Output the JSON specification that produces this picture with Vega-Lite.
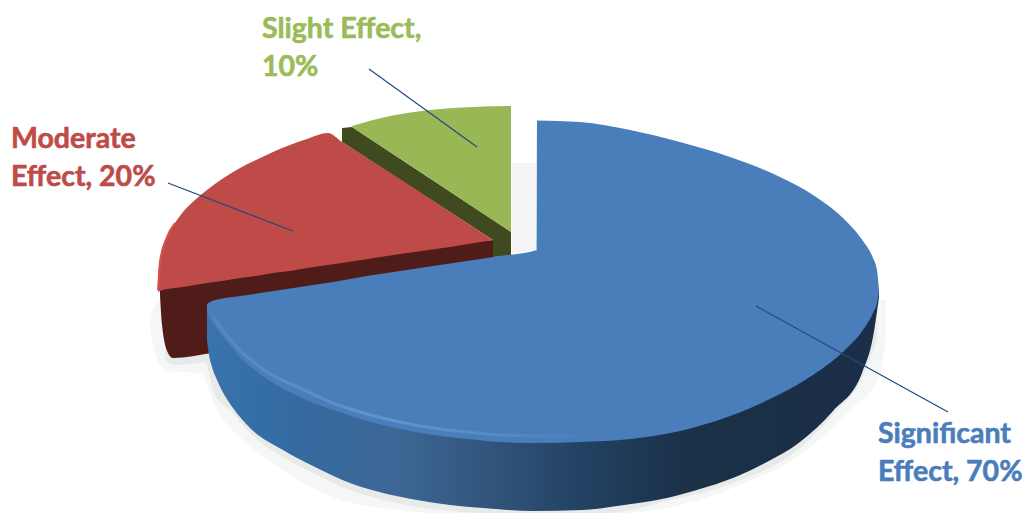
{
  "$schema": "https://vega.github.io/schema/vega-lite/v6.json",
  "width": 1032,
  "height": 513,
  "padding": 0,
  "autosize": {"type": "fit", "contains": "padding"},
  "background": "white",
  "config": {"view": {"stroke": null}},
  "datasets": {
    "shadowOuter": [
      {"x": -387, "top": -67, "bottom": -73}, {"x": -384, "top": -55, "bottom": -90}, {"x": -377, "top": -45, "bottom": -110},
      {"x": -362, "top": -45, "bottom": -117}, {"x": -337, "top": -45, "bottom": -118}, {"x": -320, "top": -45, "bottom": -155},
      {"x": -294, "top": -45, "bottom": -185}, {"x": -254, "top": -45, "bottom": -215}, {"x": -204, "top": -45, "bottom": -242},
      {"x": -137, "top": -45, "bottom": -255}, {"x": -104, "top": -45, "bottom": -258}, {"x": 83, "top": -45, "bottom": -258},
      {"x": 143, "top": -45, "bottom": -250}, {"x": 203, "top": -45, "bottom": -230}, {"x": 263, "top": -45, "bottom": -200},
      {"x": 313, "top": -45, "bottom": -155}, {"x": 343, "top": -45, "bottom": -120}, {"x": 349, "top": -45, "bottom": -80}
    ],
    "shadowInner": [
      {"x": -372, "top": -45, "bottom": -105}, {"x": -362, "top": -45, "bottom": -110}, {"x": -332, "top": -45, "bottom": -108},
      {"x": -322, "top": -45, "bottom": -140}, {"x": -304, "top": -45, "bottom": -158}, {"x": -287, "top": -45, "bottom": -178},
      {"x": -254, "top": -45, "bottom": -202}, {"x": -220, "top": -45, "bottom": -220}, {"x": -187, "top": -45, "bottom": -235},
      {"x": -154, "top": -45, "bottom": -245}, {"x": -120, "top": -45, "bottom": -252}, {"x": -87, "top": -45, "bottom": -256},
      {"x": -54, "top": -45, "bottom": -258}, {"x": 70, "top": -45, "bottom": -258}, {"x": 130, "top": -45, "bottom": -246},
      {"x": 196, "top": -45, "bottom": -228}, {"x": 263, "top": -45, "bottom": -193}, {"x": 296, "top": -45, "bottom": -160},
      {"x": 325, "top": -45, "bottom": -123}, {"x": 340, "top": -45, "bottom": -85}
    ],
    "gapShadow": [{"x": -25, "top": 92, "bottom": 2}, {"x": -1, "top": 92, "bottom": 5}],
    "greenWall": [
      {"x": -195, "top": 127, "bottom": 113}, {"x": -185, "top": 128, "bottom": 106.5}, {"x": -44, "top": 35, "bottom": 15},
      {"x": -43.99, "top": 35, "bottom": -2}, {"x": -26, "top": 23, "bottom": -1}
    ],
    "greenTop": [
      {"x": -185, "top": 129, "bottom": 128}, {"x": -164, "top": 135, "bottom": 114}, {"x": -130, "top": 142, "bottom": 92},
      {"x": -97, "top": 146, "bottom": 70}, {"x": -64, "top": 148, "bottom": 48}, {"x": -26, "top": 149, "bottom": 23}
    ],
    "redWall": [
      {"x": -377, "top": -30, "bottom": -40}, {"x": -375, "top": -30, "bottom": -70}, {"x": -369, "top": -30, "bottom": -98},
      {"x": -364, "top": -29, "bottom": -103}, {"x": -325, "top": -22, "bottom": -98}, {"x": -44, "top": 15, "bottom": -5}
    ],
    "redTop": [
      {"x": -379, "top": -17, "bottom": -37}, {"x": -377, "top": -7, "bottom": -36}, {"x": -370, "top": 18, "bottom": -34},
      {"x": -362, "top": 32, "bottom": -33}, {"x": -354, "top": 43, "bottom": -32}, {"x": -342, "top": 55, "bottom": -30},
      {"x": -330, "top": 65, "bottom": -28}, {"x": -315, "top": 76, "bottom": -26}, {"x": -297, "top": 87, "bottom": -23},
      {"x": -281, "top": 95, "bottom": -21}, {"x": -264, "top": 103, "bottom": -18}, {"x": -247, "top": 110, "bottom": -16},
      {"x": -230, "top": 116, "bottom": -13}, {"x": -209, "top": 122, "bottom": -10}, {"x": -195, "top": 113, "bottom": -8},
      {"x": -137, "top": 76, "bottom": 1}, {"x": -87, "top": 43, "bottom": 8}, {"x": -44, "top": 15, "bottom": 15}
    ],
    "redEdge": [
      {"x": -379, "y": -35}, {"x": -378, "y": -20}, {"x": -377, "y": -7}, {"x": -370, "y": 18}, {"x": -362, "y": 32}
    ],
    "blueWall": [
      {"x": -330, "top": -55, "bottom": -85}, {"x": -328, "top": -55, "bottom": -100}, {"x": -325, "top": -57, "bottom": -112},
      {"x": -320, "top": -65, "bottom": -125}, {"x": -312, "top": -75, "bottom": -141}, {"x": -304, "top": -85, "bottom": -153},
      {"x": -287, "top": -100, "bottom": -173}, {"x": -254, "top": -120, "bottom": -195}, {"x": -220, "top": -140, "bottom": -213},
      {"x": -187, "top": -150, "bottom": -228}, {"x": -154, "top": -160, "bottom": -238}, {"x": -120, "top": -165, "bottom": -245},
      {"x": -87, "top": -170, "bottom": -250}, {"x": -54, "top": -175, "bottom": -253}, {"x": -4, "top": -175, "bottom": -256},
      {"x": 46, "top": -175, "bottom": -255}, {"x": 80, "top": -175, "bottom": -251}, {"x": 130, "top": -165, "bottom": -243},
      {"x": 163, "top": -160, "bottom": -234}, {"x": 196, "top": -150, "bottom": -223}, {"x": 230, "top": -130, "bottom": -207},
      {"x": 263, "top": -105, "bottom": -187}, {"x": 296, "top": -80, "bottom": -156}, {"x": 325, "top": -55, "bottom": -118},
      {"x": 336, "top": -45, "bottom": -82}, {"x": 342, "top": -37, "bottom": -42}
    ],
    "blueTop": [
      {"x": -330, "top": -49, "bottom": -57}, {"x": -325, "top": -46, "bottom": -67}, {"x": -317, "top": -44, "bottom": -78},
      {"x": -297, "top": -41, "bottom": -102}, {"x": -270, "top": -37, "bottom": -124}, {"x": -237, "top": -32, "bottom": -142},
      {"x": -204, "top": -27, "bottom": -155}, {"x": -170, "top": -21, "bottom": -166}, {"x": -137, "top": -16, "bottom": -174},
      {"x": -104, "top": -11, "bottom": -180}, {"x": -70, "top": -6, "bottom": -184}, {"x": -37, "top": -1, "bottom": -187},
      {"x": 0, "top": 5, "bottom": -188}, {"x": 0.01, "top": 134.5, "bottom": -188}, {"x": 43, "top": 133, "bottom": -187},
      {"x": 93, "top": 125, "bottom": -184}, {"x": 143, "top": 113, "bottom": -176}, {"x": 193, "top": 98, "bottom": -161},
      {"x": 243, "top": 78, "bottom": -139}, {"x": 276, "top": 60, "bottom": -120}, {"x": 310, "top": 33, "bottom": -93},
      {"x": 326, "top": 14, "bottom": -75}, {"x": 336, "top": -3, "bottom": -58}, {"x": 340, "top": -15, "bottom": -48},
      {"x": 342, "top": -35, "bottom": -37}
    ],
    "blueRim": [
      {"x": -324, "y": -62}, {"x": -304, "y": -88}, {"x": -270, "y": -117}, {"x": -237, "y": -133},
      {"x": -204, "y": -148}, {"x": -170, "y": -159}, {"x": -137, "y": -167}, {"x": -104, "y": -173},
      {"x": -70, "y": -177}, {"x": -37, "y": -180}, {"x": 63, "y": -182}
    ],
    "slices": [
      {"slice": "Slight", "share": 10, "label": "Slight Effect,\n10%", "labelX": -275, "labelY": 217, "fromX": -168, "fromY": 186, "toX": -60, "toY": 108},
      {"slice": "Moderate", "share": 20, "label": "Moderate\nEffect, 20%", "labelX": -526, "labelY": 107, "fromX": -369, "fromY": 72, "toX": -244, "toY": 24},
      {"slice": "Significant", "share": 70, "label": "Significant\nEffect, 70%", "labelX": 341, "labelY": -188, "fromX": 219, "fromY": -51, "toX": 411, "toY": -157}
    ]
  },
  "encoding": {
    "x": {"field": "x", "type": "quantitative", "axis": null, "scale": {"domain": [-537, 495], "nice": false, "zero": false}},
    "y": {"field": "top", "type": "quantitative", "axis": null, "scale": {"domain": [-258, 255], "nice": false, "zero": false}},
    "y2": {"field": "bottom"}
  },
  "layer": [
    {"data": {"name": "shadowOuter"}, "mark": {"type": "area", "orient": "vertical", "interpolate": "monotone", "color": "#f5f6f6"}},
    {"data": {"name": "shadowInner"}, "mark": {"type": "area", "orient": "vertical", "interpolate": "monotone", "color": "#e8eaea"}},
    {"data": {"name": "gapShadow"}, "mark": {"type": "area", "orient": "vertical", "color": "#f3f4f4"}},
    {"data": {"name": "greenWall"}, "mark": {"type": "area", "orient": "vertical", "color": "#3f4a1f"}},
    {"data": {"name": "greenTop"}, "mark": {"type": "area", "orient": "vertical", "interpolate": "monotone", "color": "#9ab756"}},
    {"data": {"name": "redWall"}, "mark": {"type": "area", "orient": "vertical", "interpolate": "monotone", "color": "#4f1c19"}},
    {"data": {"name": "redTop"}, "mark": {"type": "area", "orient": "vertical", "interpolate": "monotone", "color": "#be4b48"}},
    {
      "data": {"name": "redEdge"},
      "mark": {"type": "line", "interpolate": "monotone", "strokeWidth": 2, "color": "#d9504f"},
      "encoding": {
        "x": {"field": "x", "type": "quantitative", "axis": null},
        "y": {"field": "y", "type": "quantitative", "axis": null},
        "y2": null
      }
    },
    {
      "data": {"name": "blueWall"},
      "mark": {
        "type": "area",
        "orient": "vertical",
        "interpolate": "monotone",
        "color": {
          "gradient": "linear", "x1": 0, "x2": 1, "y1": 0, "y2": 0,
          "stops": [
            {"offset": 0, "color": "#3a74ac"},
            {"offset": 0.1, "color": "#346ca4"},
            {"offset": 0.29, "color": "#3d6694"},
            {"offset": 0.44, "color": "#2f5278"},
            {"offset": 0.58, "color": "#213f5f"},
            {"offset": 0.72, "color": "#1b3148"},
            {"offset": 1, "color": "#1a2f47"}
          ]
        }
      }
    },
    {"data": {"name": "blueTop"}, "mark": {"type": "area", "orient": "vertical", "interpolate": "monotone", "color": "#4a7ebb"}},
    {
      "data": {"name": "blueRim"},
      "mark": {
        "type": "line",
        "interpolate": "monotone",
        "strokeWidth": 3,
        "stroke": {
          "gradient": "linear", "x1": 0, "x2": 1, "y1": 0, "y2": 0,
          "stops": [
            {"offset": 0, "color": "#5488c4"},
            {"offset": 0.45, "color": "#6094d0"},
            {"offset": 0.75, "color": "#568ac6"},
            {"offset": 1, "color": "#4a7ebb"}
          ]
        }
      },
      "encoding": {
        "x": {"field": "x", "type": "quantitative", "axis": null},
        "y": {"field": "y", "type": "quantitative", "axis": null},
        "y2": null
      }
    },
    {
      "data": {"name": "slices"},
      "mark": {"type": "rule", "color": "#1f497d", "strokeWidth": 1.2},
      "encoding": {
        "x": {"field": "fromX", "type": "quantitative", "axis": null},
        "x2": {"field": "toX"},
        "y": {"field": "fromY", "type": "quantitative", "axis": null},
        "y2": {"field": "toY"}
      }
    },
    {
      "data": {"name": "slices"},
      "mark": {
        "type": "text",
        "align": "left",
        "baseline": "alphabetic",
        "font": "Lato",
        "fontWeight": "bold",
        "fontSize": 28.5,
        "lineBreak": "\n",
        "lineHeight": 38,
        "strokeWidth": 0.6
      },
      "encoding": {
        "x": {"field": "labelX", "type": "quantitative", "axis": null},
        "y": {"field": "labelY", "type": "quantitative", "axis": null},
        "y2": null,
        "text": {"field": "label"},
        "color": {
          "field": "slice",
          "type": "nominal",
          "legend": null,
          "scale": {"domain": ["Significant", "Moderate", "Slight"], "range": ["#4a7ebb", "#be4b48", "#9bbb59"]}
        },
        "stroke": {
          "field": "slice",
          "type": "nominal",
          "legend": null,
          "scale": {"domain": ["Significant", "Moderate", "Slight"], "range": ["#4a7ebb", "#be4b48", "#9bbb59"]}
        }
      }
    }
  ]
}
